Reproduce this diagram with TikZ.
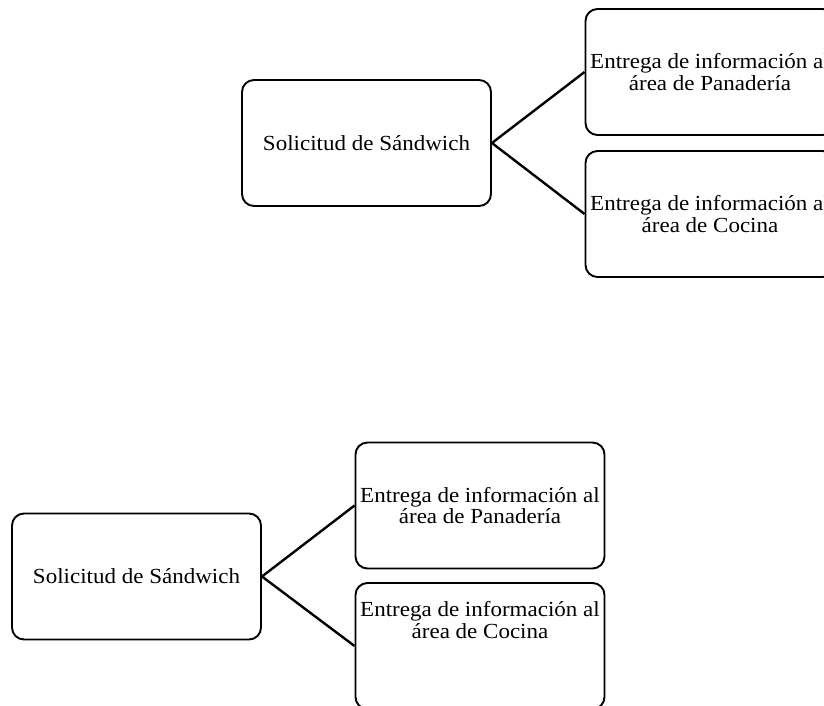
\documentclass[tikz,border=0pt]{standalone}
\usepackage{fontspec}
\setmainfont{Liberation Serif}[FakeStretch=1.07]
\begin{document}
\begin{tikzpicture}[x=1pt,y=-1pt,
  box/.style={draw, line width=1.9pt, rounded corners=12pt, minimum width=249pt, minimum height=126pt, inner sep=0pt, align=center, font=\fontsize{21.5}{21.5}\selectfont},
  link/.style={line width=2.4pt}]
\useasboundingbox (0,0) rectangle (824,706);
\clip (0,0) rectangle (824,706);
% top diagram
\node[box] (L1) at (366.5,143) {Solicitud de Sándwich};
\node[box] (R1a) at (710,72) {Entrega de información al\\área de Panadería};
\node[box] (R1b) at (710,214) {Entrega de información al\\área de Cocina};
\draw[link] (R1a.west) -- (L1.east) -- (R1b.west);
% bottom diagram
\node[box] (L2) at (136.5,576.5) {Solicitud de Sándwich};
\node[box] (R2a) at (480,505.5) {Entrega de información al\\área de Panadería};
\node[box, label={[name=R2bt, align=center, font=\fontsize{21.5}{21.5}\selectfont, yshift=26pt]center:Entrega de información al\\área de Cocina}] (R2b) at (480,646) {};
\draw[link] (R2a.west) -- (L2.east) -- (R2b.west);
\end{tikzpicture}
\end{document}
